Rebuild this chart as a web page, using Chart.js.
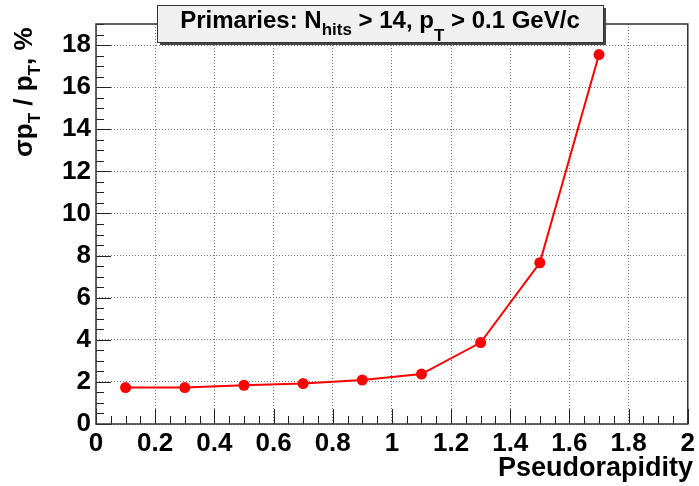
<!DOCTYPE html>
<html>
<head>
<meta charset="utf-8">
<script src="https://cdn.jsdelivr.net/npm/chart.js@4.4.1/dist/chart.umd.min.js"></script>
<style>
  html, body { margin: 0; padding: 0; background: #fff; }
  #wrap { width: 699px; height: 486px; }
</style>
</head>
<body>
<div id="wrap"><canvas id="myChart" width="699" height="486"></canvas></div>
<script>
// values
const eta = [0.1, 0.3, 0.5, 0.7, 0.9, 1.1, 1.3, 1.5, 1.7];
const resolution = [1.73, 1.73, 1.84, 1.92, 2.09, 2.37, 3.87, 7.66, 17.55];

const xTicks = [0, 0.2, 0.4, 0.6, 0.8, 1, 1.2, 1.4, 1.6, 1.8, 2];
const xTickLabels = ["0", "0.2", "0.4", "0.6", "0.8", "1", "1.2", "1.4", "1.6", "1.8", "2"];
const yTicks = [0, 2, 4, 6, 8, 10, 12, 14, 16, 18];

const FONT = '"Liberation Sans", Arial, sans-serif';

// draw a run of text pieces, some of them subscripts
function drawPieces(c, pieces, x, y) {
  pieces.forEach(p => {
    c.font = "bold " + p.size + "px " + FONT;
    c.fillText(p.t, x, y + (p.dy || 0));
    x += c.measureText(p.t).width;
  });
}
function piecesWidth(c, pieces) {
  let w = 0;
  pieces.forEach(p => {
    c.font = "bold " + p.size + "px " + FONT;
    w += c.measureText(p.t).width;
  });
  return w;
}

const rootStyle = {
  id: "rootStyle",
  afterDraw(chart) {
    const c = chart.ctx;
    const a = chart.chartArea;
    const xs = chart.scales.x, ys = chart.scales.y;
    c.save();

    // tick marks inside the frame
    c.strokeStyle = "#222";
    c.lineWidth = 1;
    c.beginPath();
    for (let i = 0; i <= 38; i++) {
      const py = Math.round(ys.getPixelForValue(i * 0.5)) + 0.5;
      const len = i % 4 === 0 ? 15 : 8;
      c.moveTo(a.left, py);
      c.lineTo(a.left + len, py);
    }
    for (let i = 0; i <= 40; i++) {
      const px = Math.round(xs.getPixelForValue(i * 0.05)) + 0.5;
      const len = i % 4 === 0 ? 15 : 8;
      c.moveTo(px, a.bottom);
      c.lineTo(px, a.bottom - len);
    }
    c.stroke();

    // frame
    c.strokeStyle = "#333";
    c.lineWidth = 1.5;
    c.strokeRect(a.left, a.top, a.right - a.left, a.bottom - a.top);

    // title box with shadow
    const bx = 157, by = 5, bw = 446, bh = 37;
    c.fillStyle = "#444";
    c.fillRect(bx + 3, by + 3, bw, bh);
    c.fillStyle = "#f0f0f0";
    c.fillRect(bx, by, bw, bh);
    c.strokeStyle = "#333";
    c.lineWidth = 1;
    c.strokeRect(bx + 0.5, by + 0.5, bw, bh);

    c.fillStyle = "#000";
    c.textAlign = "left";
    c.textBaseline = "alphabetic";
    const title = [
      { t: "Primaries: N", size: 24 },
      { t: "hits", size: 17, dy: 7 },
      { t: " > 14, p", size: 24 },
      { t: "T", size: 17, dy: 13 },
      { t: " > 0.1 GeV/c", size: 24 }
    ];
    const tw = piecesWidth(c, title);
    drawPieces(c, title, bx + (bw - tw) / 2, 28);

    // y axis title
    c.save();
    c.translate(32, 157);
    c.rotate(-Math.PI / 2);
    drawPieces(c, [
      { t: "σp", size: 26 },
      { t: "T", size: 17, dy: 8 },
      { t: " / p", size: 26 },
      { t: "T", size: 17, dy: 8 },
      { t: ", %", size: 26 }
    ], 0, 0);
    c.restore();

    // x axis title
    c.font = "bold 27px " + FONT;
    c.textAlign = "right";
    c.fillText("Pseudorapidity", 693, 476);
    c.restore();
  }
};

new Chart(document.getElementById("myChart"), {
  type: "line",
  data: {
    datasets: [
      {
        data: eta.map((x, i) => ({ x: x, y: resolution[i] })),
        borderColor: "#ff0000",
        backgroundColor: "#ff0000",
        borderWidth: 2,
        pointRadius: 5.5,
        pointHoverRadius: 5.5,
        pointBorderWidth: 0,
        tension: 0
      }
    ]
  },
  options: {
    responsive: false,
    animation: false,
    events: [],
    layout: { padding: { top: 24, right: 2, left: 0, bottom: 0 } },
    plugins: { legend: { display: false }, title: { display: false }, tooltip: { enabled: false } },
    scales: {
      x: {
        type: "linear",
        min: 0,
        max: 2,
        afterFit: s => { s.height = 62; },
        afterBuildTicks: s => { s.ticks = xTicks.map(v => ({ value: v })); },
        grid: { color: "#777", lineWidth: 1, drawTicks: false },
        border: { display: false, dash: [1, 2] },
        ticks: {
          padding: 4,
          maxRotation: 0,
          autoSkip: false,
          color: "#000",
          font: { family: FONT, size: 26, weight: "bold" },
          callback: (v, i) => xTickLabels[i]
        }
      },
      y: {
        min: 0,
        max: 19,
        afterFit: s => { s.width = 96; },
        afterBuildTicks: s => { s.ticks = yTicks.map(v => ({ value: v })); },
        grid: { color: "#777", lineWidth: 1, drawTicks: false },
        border: { display: false, dash: [1, 2] },
        ticks: {
          padding: 5,
          autoSkip: false,
          color: "#000",
          font: { family: FONT, size: 26, weight: "bold" }
        }
      }
    }
  },
  plugins: [rootStyle]
});
</script>
</body>
</html>
